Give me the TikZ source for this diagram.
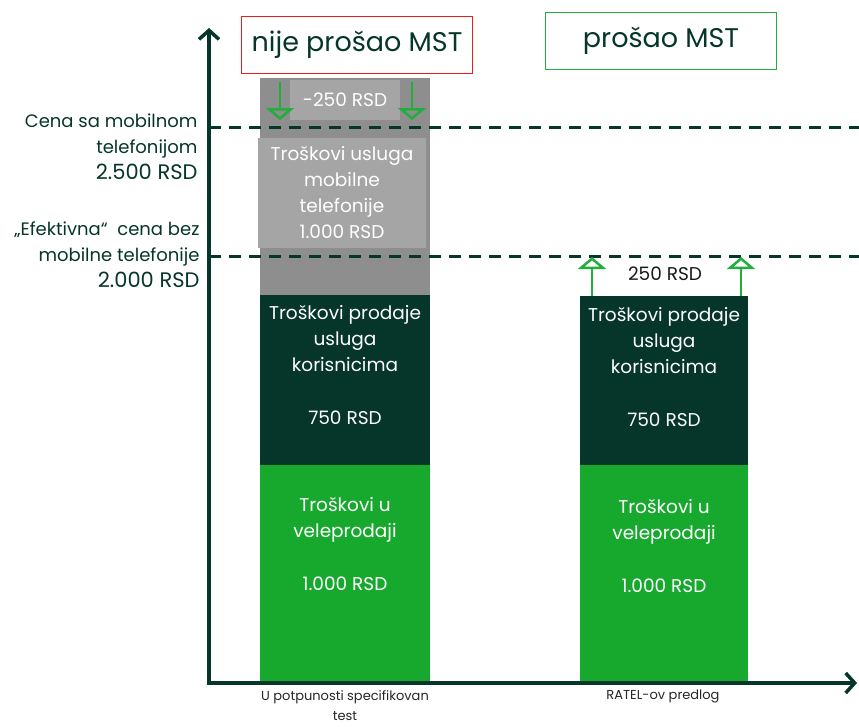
\documentclass[tikz,border=0pt]{standalone}
\usepackage{fontspec}
\setmainfont{Poppins}
\usetikzlibrary{arrows.meta}
\definecolor{darkteal}{HTML}{06352A}
\definecolor{bargreen}{HTML}{17A82E}
\definecolor{arrowgreen}{HTML}{22AE3A}
\definecolor{outergray}{HTML}{8E8E8E}
\definecolor{innergray}{HTML}{A5A5A5}
\definecolor{tagred}{HTML}{EE1C1C}
\newcommand{\bigprice}[1]{{\fontsize{21}{26}\selectfont #1}}

\begin{document}
\begin{tikzpicture}[x=1pt, y=-1pt,
        axis/.style={draw=darkteal, line width=3.5pt, {Straight Barb[length=9pt, width=20pt]}-{Straight Barb[length=9pt, width=20pt]}},
        level/.style={draw=darkteal, line width=3pt, dash pattern=on 12pt off 8pt},
        bar/.style={draw=none, anchor=north west, inner sep=0pt},
        bartext/.style={text=white, align=center, font=\fontsize{18.5}{26}\selectfont},
        side/.style={text=darkteal, align=right, anchor=east, font=\fontsize{18}{26}\selectfont},
        pricearrow/.style={draw=arrowgreen, line width=2.5pt, -{Triangle[open, length=12pt, width=28pt]}},
        tag/.style={draw, line width=1.5pt, minimum width=231pt, minimum height=57pt, text=darkteal, font=\fontsize{27}{30}\selectfont},
        caption/.style={text=black!85, align=center, font=\fontsize{13}{20}\selectfont}
    ]
    \useasboundingbox (0,0) rectangle (859,726);

    \node[bar, fill=outergray, minimum width=170pt, minimum height=217pt] (mobile) at (260,78) {};
    \node[bar, fill=darkteal, minimum width=170pt, minimum height=170pt] (sales) at (260,295) {};
    \node[bar, fill=bargreen, minimum width=170pt, minimum height=218pt] (wholesale) at (260,465) {};
    \node[bar, fill=darkteal, minimum width=168pt, minimum height=169pt] (ratelsales) at (580,296) {};
    \node[bar, fill=bargreen, minimum width=168pt, minimum height=218pt] (ratelwholesale) at (580,465) {};

    \node[fill=innergray, minimum width=110pt, minimum height=40pt, bartext] (cut) at (345,100) {-250 RSD};
    \node[fill=innergray, minimum width=168pt, minimum height=110pt, bartext] (mobiletext) at (342,193) {Troškovi usluga\\mobilne\\telefonije\\1.000 RSD};

    \coordinate (origin) at (209,683);
    \coordinate (ytop) at (209,28);
    \coordinate (xend) at (857,683);
    \coordinate (fullstart) at (209,127);
    \coordinate (fullend) at (859,127);
    \coordinate (effstart) at (209,256);
    \coordinate (effend) at (859,256);
    \draw[level] (fullstart) -- (fullend);
    \draw[level] (effstart) -- (effend);
    \draw[axis] (ytop) -- (origin) -- (xend);

    \coordinate (cutleft) at (280,82);
    \coordinate (cutlefttip) at (280,120);
    \coordinate (cutright) at (412,82);
    \coordinate (cutrighttip) at (412,120);
    \coordinate (riseleft) at (592,296);
    \coordinate (riselefttip) at (592,257);
    \coordinate (riseright) at (741,296);
    \coordinate (riserighttip) at (741,257);
    \draw[pricearrow] (cutleft) -- (cutlefttip);
    \draw[pricearrow] (cutright) -- (cutrighttip);
    \draw[pricearrow] (riseleft) -- (riselefttip);
    \draw[pricearrow] (riseright) -- (riserighttip);

    \node[bartext] (salestext) at (345,339) {Troškovi prodaje\\usluga\\korisnicima};
    \node[bartext] (salesprice) at (345,418) {750 RSD};
    \node[bartext] (wholesaletext) at (345,520) {Troškovi u\\veleprodaji};
    \node[bartext] (wholesaleprice) at (345,584) {1.000 RSD};
    \node[bartext] (ratelsalestext) at (664,341) {Troškovi prodaje\\usluga\\korisnicima};
    \node[bartext] (ratelsalesprice) at (664,420) {750 RSD};
    \node[bartext] (ratelwholesaletext) at (664,522) {Troškovi u\\veleprodaji};
    \node[bartext] (ratelwholesaleprice) at (664,586) {1.000 RSD};
    \node[bartext, text=black!90] (rise) at (665,274) {250 RSD};

    \node[side] (fullprice) at (201,147) {Cena sa mobilnom\\telefonijom\\\bigprice{2.500 RSD}};
    \node[side] (effprice) at (203,255) {„Efektivna“~ cena bez\\mobilne telefonije\\\bigprice{2.000 RSD}};

    \node[tag, draw=tagred] (fail) at (357,45) {nije prošao MST};
    \node[tag, draw=arrowgreen] (pass) at (661,41) {prošao MST};

    \node[caption] (fulltest) at (345,706) {U potpunosti specifikovan\\test};
    \node[caption] (ratel) at (663,696) {RATEL-ov predlog};
\end{tikzpicture}
\end{document}
